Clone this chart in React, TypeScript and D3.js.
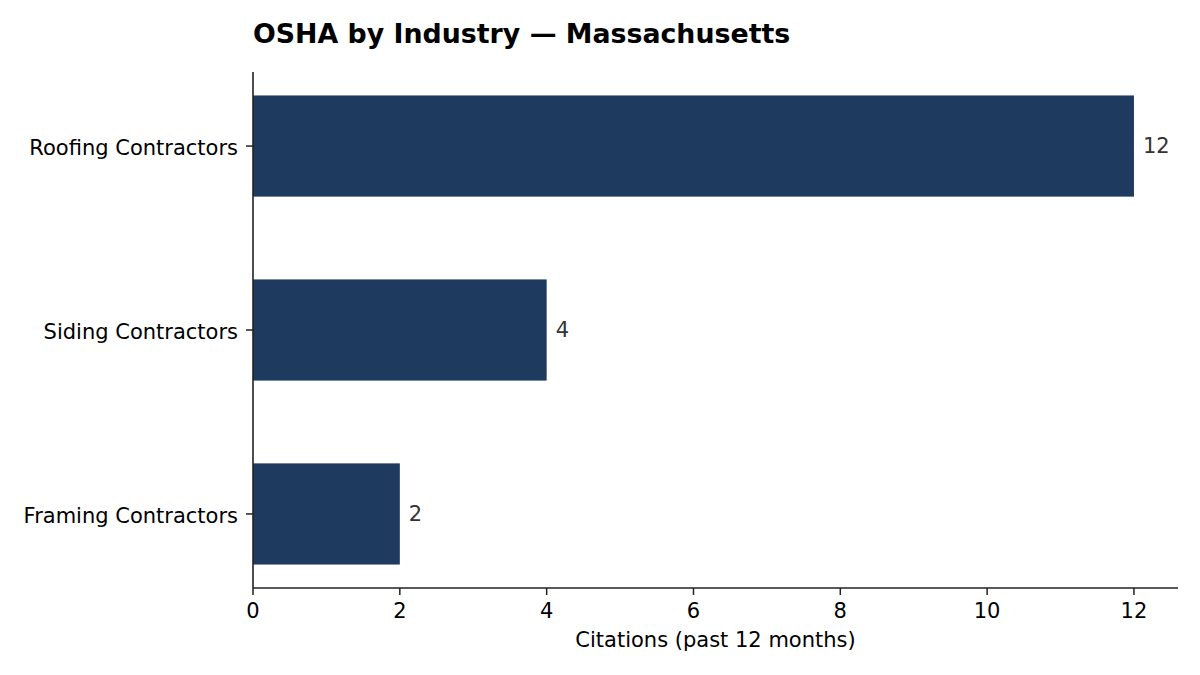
import React from "react";
import * as d3 from "d3";

const categories = ["Roofing Contractors", "Siding Contractors", "Framing Contractors"];
const citations = [12, 4, 2];
const xTicks = [0, 2, 4, 6, 8, 10, 12];
const title = "OSHA by Industry — Massachusetts";
const xLabel = "Citations (past 12 months)";

const W = 1200;
const H = 675;
const margin = { left: 253, right: 22, top: 72, bottom: 87 };
const FONT = "DejaVu Sans, sans-serif";
const FS = 21;

export default function App() {
  const x = d3.scaleLinear().domain([0, 12.6]).range([margin.left, W - margin.right]);
  const y = d3
    .scaleLinear()
    .domain([-0.4025, 2.4025])
    .range([margin.top, H - margin.bottom]);
  const barH = Math.abs(y(0.275) - y(-0.275));
  const axisY = H - margin.bottom;
  return (
    <svg width={W} height={H} style={{ position: "absolute", left: 0, top: 0, background: "#fff" }} fontFamily={FONT}>
      <rect x={0} y={0} width={W} height={H} fill="#fff" />
      <text x={margin.left} y={43} fontSize={26.8} fontWeight="bold" fill="#000">
        {title}
      </text>
      {categories.map((c, i) => (
        <g key={c}>
          <rect x={x(0)} y={y(i) - barH / 2} width={x(citations[i]) - x(0)} height={barH} fill="#1f3a5f" />
          <text x={x(citations[i]) + 9} y={y(i)} dy="0.32em" fontSize={FS} fill="#333">
            {citations[i]}
          </text>
          <line x1={x(0) - 7} x2={x(0)} y1={y(i)} y2={y(i)} stroke="#222" strokeWidth={1.5} />
          <text x={x(0) - 15} y={y(i)} dy="0.42em" fontSize={FS} textAnchor="end" fill="#000">
            {c}
          </text>
        </g>
      ))}
      <line x1={x(0)} x2={x(0)} y1={margin.top} y2={axisY} stroke="#222" strokeWidth={1.6} />
      <line x1={x(0)} x2={W - margin.right} y1={axisY} y2={axisY} stroke="#222" strokeWidth={1.6} />
      {xTicks.map((t) => (
        <g key={t}>
          <line x1={x(t)} x2={x(t)} y1={axisY} y2={axisY + 7} stroke="#222" strokeWidth={1.5} />
          <text x={x(t)} y={618} fontSize={FS} textAnchor="middle" fill="#000">
            {t}
          </text>
        </g>
      ))}
      <text x={(x(0) + x(12.6)) / 2} y={647} fontSize={FS} textAnchor="middle" fill="#000">
        {xLabel}
      </text>
    </svg>
  );
}
